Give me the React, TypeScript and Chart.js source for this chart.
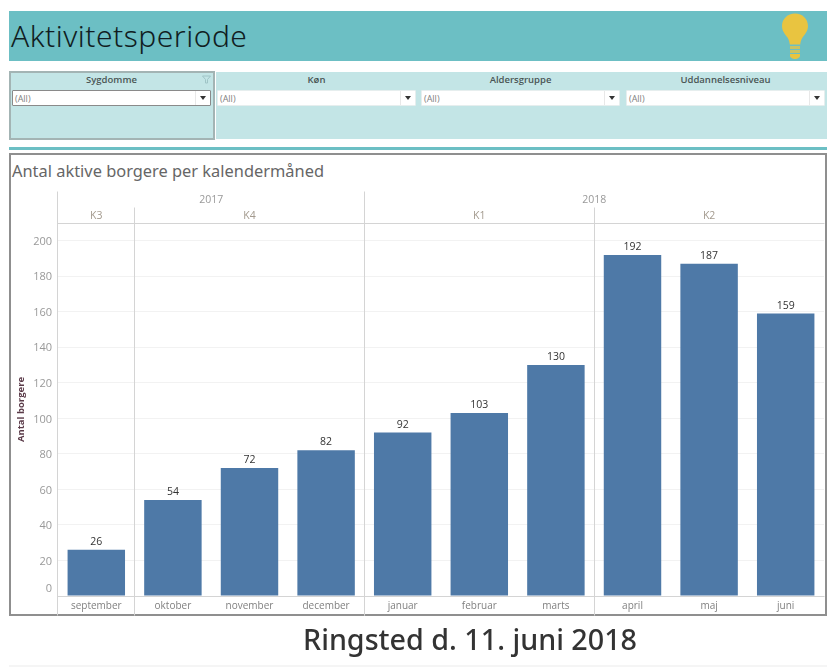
import React, { useEffect, useRef } from "react";
import { Chart, registerables } from "chart.js";

Chart.register(...registerables);

const months = ["september", "oktober", "november", "december", "januar", "februar", "marts", "april", "maj", "juni"];
const activeCitizens = [26, 54, 72, 82, 92, 103, 130, 192, 187, 159];
const yTicks = [0, 20, 40, 60, 80, 100, 120, 140, 160, 180, 200];
const quarters = [
  { label: "K3", start: 0, end: 1 },
  { label: "K4", start: 1, end: 4 },
  { label: "K1", start: 4, end: 7 },
  { label: "K2", start: 7, end: 10 },
];
const years = [
  { label: "2017", start: 0, end: 4 },
  { label: "2018", start: 4, end: 10 },
];
const filters = ["Sygdomme", "Køn", "Aldersgruppe", "Uddannelsesniveau"];
const filterValue = "(All)";

const FONT = '"Open Sans", "Noto Sans", sans-serif';
const TITLE_FONT = '"Noto Sans", "Open Sans", sans-serif';

const headerPlugin = {
  id: "tableauHeaders",
  beforeDraw(chart: any) {
    const y = chart.scales.y;
    const items = y.getLabelItems(chart.chartArea);
    for (const it of items) {
      if (!it.__moved) {
        const shift = it.label === "0" ? -7 : 1;
        it.options.translation = [it.options.translation[0], it.options.translation[1] + shift];
        it.__moved = true;
      }
    }
  },
  afterDatasetsDraw(chart: any) {
    const { ctx, chartArea, scales } = chart;
    const x = scales.x;
    const stepW = x.width / months.length;
    const edge = (i: number) => x.left + i * stepW;
    const yearTop = chartArea.top - 32;
    const quarterTop = chartArea.top - 16;
    const panelBottom = chartArea.bottom + 19;

    ctx.save();
    ctx.strokeStyle = "#d4d4d4";
    ctx.lineWidth = 1;
    const line = (x1: number, y1: number, x2: number, y2: number) => {
      ctx.beginPath();
      ctx.moveTo(Math.floor(x1) + 0.5, Math.floor(y1) + 0.5);
      ctx.lineTo(Math.floor(x2) + 0.5, Math.floor(y2) + 0.5);
      ctx.stroke();
    };
    line(x.left - 1, yearTop, x.left - 1, panelBottom);
    line(x.left - 1, chartArea.top, x.right, chartArea.top);
    line(x.left - 1, chartArea.bottom, x.right, chartArea.bottom);
    for (const yr of years.slice(1)) line(edge(yr.start), yearTop, edge(yr.start), panelBottom);
    for (const q of quarters.slice(1)) line(edge(q.start), quarterTop, edge(q.start), panelBottom);

    ctx.textAlign = "center";
    ctx.textBaseline = "middle";
    ctx.font = `10.5px ${FONT}`;
    ctx.fillStyle = "#999999";
    for (const yr of years) ctx.fillText(yr.label, (edge(yr.start) + edge(yr.end)) / 2, yearTop + 9);
    ctx.fillStyle = "#a39a8e";
    for (const q of quarters) ctx.fillText(q.label, (edge(q.start) + edge(q.end)) / 2, quarterTop + 9);

    ctx.fillStyle = "#333333";
    ctx.font = `10.5px ${FONT}`;
    ctx.textBaseline = "alphabetic";
    const meta = chart.getDatasetMeta(0);
    meta.data.forEach((bar: any, i: number) => {
      ctx.fillText(String(activeCitizens[i]), bar.x, bar.y - 5);
    });
    ctx.restore();
  },
};

function Bulb() {
  return (
    <svg width="28" height="48" viewBox="0 0 28 48" style={{ position: "absolute", left: 781, top: 13 }}>
      <path d="M14 0.5C6.5 0.5 1 6 1 13c0 5 3 8 5.5 11.5C8 27 8.5 29 8.8 31.5h10.4c.3-2.5.8-4.5 2.3-7C24 21 27 18 27 13 27 6 21.5.5 14 .5z" fill="#e9c440" />
      <rect x="9" y="33" width="10" height="3" fill="#e9c440" opacity="0.75" />
      <rect x="9" y="37" width="10" height="3" fill="#e9c440" opacity="0.75" />
      <path d="M9 41h10v2c0 1.5-2.5 3-5 3s-5-1.5-5-3z" fill="#e9c440" />
    </svg>
  );
}

function FilterBox({ label, left, width, active }: { label: string; left: number; width: number; active?: boolean }) {
  return (
    <>
      <div style={{ position: "absolute", left: left - 2, width: width + 4, top: 73, height: 14, textAlign: "center", font: `600 9.5px ${FONT}`, lineHeight: "14px", color: "#4a5555" }}>{label}</div>
      <div style={{ position: "absolute", left, width, top: 90, height: 16, boxSizing: "border-box", background: "#fff", border: active ? "1px solid #8a8a8a" : "1px solid #e6eeee", borderRadius: 1 }}>
        <span style={{ position: "absolute", left: 2, top: 0, font: `9px ${FONT}`, lineHeight: "15px", color: "#808080" }}>{filterValue}</span>
        <span style={{ position: "absolute", right: 14, top: 0, bottom: 0, width: 1, background: "#e8e8e8" }} />
        <span style={{ position: "absolute", right: 4, top: 5, width: 0, height: 0, borderLeft: "3.5px solid transparent", borderRight: "3.5px solid transparent", borderTop: "4px solid #333" }} />
      </div>
    </>
  );
}

export default function App() {
  const ref = useRef<HTMLCanvasElement>(null);

  useEffect(() => {
    const chart = new Chart(ref.current!, {
      type: "bar",
      data: {
        labels: months,
        datasets: [
          {
            data: activeCitizens,
            backgroundColor: "#4e79a7",
            categoryPercentage: 1,
            barPercentage: 0.75,
          },
        ],
      },
      options: {
        animation: false,
        responsive: false,
        devicePixelRatio: 1,
        layout: { padding: { top: 223, bottom: 53, left: 0, right: 3 } },
        plugins: { legend: { display: false }, tooltip: { enabled: false } },
        scales: {
          x: {
            afterFit: (s: any) => { s.height = 19; },
            grid: { display: false, drawTicks: false },
            border: { display: false },
            ticks: { color: "#808080", font: { size: 10, family: FONT }, padding: 4, maxRotation: 0, autoSkip: false },
          },
          y: {
            min: 0,
            max: 210,
            afterFit: (s: any) => { s.width = 58; },
            afterBuildTicks: (s: any) => { s.ticks = yTicks.map((value) => ({ value })); },
            grid: { color: "#f2f2f2", drawTicks: false },
            border: { display: false },
            ticks: { color: "#999999", font: { size: 11, family: FONT }, padding: 6 },
            title: {
              display: true,
              text: "Antal borgere",
              color: "#5a3a48",
              font: { size: 9.5, weight: 700, family: FONT },
              padding: { top: 16, bottom: 0 },
            },
          },
        },
      },
      plugins: [headerPlugin],
    } as any);
    return () => chart.destroy();
  }, []);

  return (
    <div style={{ position: "absolute", left: 0, top: 0, width: 827, height: 668, overflow: "hidden", background: "#fff" }}>
      <div style={{ position: "absolute", left: 9, top: 11, width: 818, height: 50, background: "#6cbfc4" }} />
      <div style={{ position: "absolute", left: 11, top: 13, font: `300 30px ${TITLE_FONT}`, letterSpacing: "0.5px", lineHeight: "46px", color: "#111d22" }}>Aktivitetsperiode</div>
      <Bulb />

      <div style={{ position: "absolute", left: 216, top: 72, width: 611, height: 67, background: "#c3e5e6" }} />
      <div style={{ position: "absolute", left: 9, top: 71, width: 206, height: 69, boxSizing: "border-box", background: "#c3e5e6", border: "2px solid #a3b4b4" }} />
      <FilterBox label={filters[0]} left={12} width={199} active />
      <FilterBox label={filters[1]} left={217} width={199} />
      <FilterBox label={filters[2]} left={421} width={199} />
      <FilterBox label={filters[3]} left={626} width={199} />
      <svg width="9" height="9" viewBox="0 0 9 9" style={{ position: "absolute", left: 202, top: 75 }}>
        <path d="M0.5 1h8L5.5 4.5V8h-2V4.5z" fill="none" stroke="#9fc4c6" strokeWidth="1" />
      </svg>

      <div style={{ position: "absolute", left: 9, top: 147, width: 818, height: 3, background: "#6cbfc4" }} />
      <div style={{ position: "absolute", left: 9, top: 153, width: 818, height: 463, boxSizing: "border-box", border: "2px solid #8f8f8f" }} />
      <div style={{ position: "absolute", left: 12, top: 160, font: `400 16.4px ${TITLE_FONT}`, lineHeight: "22px", color: "#666" }}>Antal aktive borgere per kalendermåned</div>

      <canvas ref={ref} width={827} height={668} style={{ position: "absolute", left: 0, top: 0, width: 827, height: 668 }} />

      <div style={{ position: "absolute", left: 0, width: 940, top: 620, textAlign: "center", font: `500 28.7px ${TITLE_FONT}`, lineHeight: "38px", color: "#333" }}>Ringsted d. 11. juni 2018</div>
      <div style={{ position: "absolute", left: 9, top: 665, width: 818, height: 2, background: "#f5f5f5" }} />
    </div>
  );
}
